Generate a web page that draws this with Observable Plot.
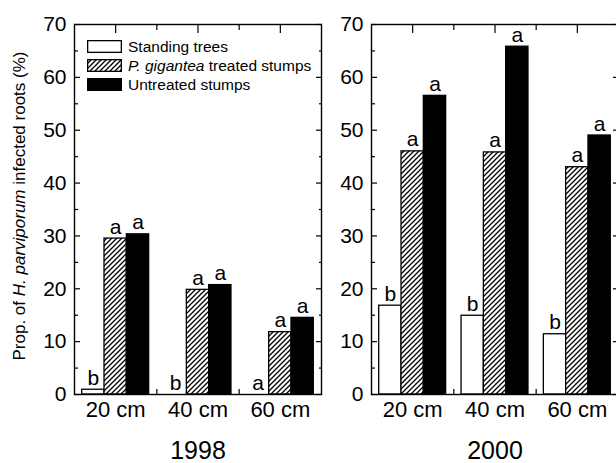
<!DOCTYPE html>
<html><head><meta charset="utf-8">
<script src="https://cdn.jsdelivr.net/npm/d3@7"></script>
<script src="https://cdn.jsdelivr.net/npm/@observablehq/plot@0.6"></script>
<style>
body{margin:0;background:#fff;}
#wrap{position:relative;width:616px;height:463px;overflow:hidden;font-family:"Liberation Sans",Arial,sans-serif;color:#000;}
.panel{position:absolute;top:0;}
#ytitle{position:absolute;left:20px;top:206px;transform:translate(-50%,-50%) rotate(-90deg);white-space:nowrap;font-size:17px;}
#legend{position:absolute;left:87px;top:37px;font-size:15.5px;line-height:19px;}
.row{display:flex;align-items:center;height:19px;}
.row svg{margin-right:6px;}
</style></head>
<body>
<svg width="0" height="0" style="position:absolute">
  <defs>
    <pattern id="hatch" patternUnits="userSpaceOnUse" width="5" height="5">
      <rect width="5" height="5" fill="#fff"/>
      <path d="M-1,1 L1,-1 M0,5 L5,0 M4,6 L6,4" stroke="#000" stroke-width="1.3"/>
    </pattern>
  </defs>
</svg>
<div id="wrap">
  <div id="ytitle">Prop. of <i>H. parviporum</i> infected roots (%)</div>
</div>
<script>
const depths = ["20 cm", "40 cm", "60 cm"];
const seriesNames = ["Standing trees", "P. gigantea treated stumps", "Untreated stumps"];
const years = ["1998", "2000"];

const standing1998 = [0.9, 0, 0];
const treated1998 = [29.5, 19.8, 11.8];
const untreated1998 = [30.3, 20.7, 14.5];
const standing2000 = [16.8, 14.9, 11.4];
const treated2000 = [46.0, 45.8, 43.0];
const untreated2000 = [56.5, 65.8, 49.0];

const lettersStanding1998 = ["b", "b", "a"];
const lettersTreated1998 = ["a", "a", "a"];
const lettersUntreated1998 = ["a", "a", "a"];
const lettersStanding2000 = ["b", "b", "b"];
const lettersTreated2000 = ["a", "a", "a"];
const lettersUntreated2000 = ["a", "a", "a"];

const yMajor = [0, 10, 20, 30, 40, 50, 60, 70];
const yMinor = [5, 15, 25, 35, 45, 55, 65];

const fills = ["#fff", "url(#hatch)", "#000"];
const barW = 0.271;

function panel(year, values, letters, {width, marginLeft, marginRight}) {
  const rows = [];
  depths.forEach((d, i) => values.forEach((arr, j) => rows.push({depth: i, s: j, v: arr[i], l: letters[j][i]})));
  const x1 = d => d.depth + 0.5 + (d.s - 1.5) * barW;
  const x2 = d => x1(d) + barW;
  const xc = d => x1(d) + barW / 2;
  const centers = depths.map((d, i) => i + 0.5);
  const bounds = depths.slice(1).map((d, i) => i + 1);
  const none = () => "";
  return Plot.plot({
    width, height: 463, marginLeft, marginRight, marginTop: 24, marginBottom: 69,
    x: {domain: [0, depths.length], axis: null},
    y: {domain: [0, 70], axis: null},
    style: {fontFamily: "'Liberation Sans', Arial, sans-serif", fontSize: "21px", color: "#000", background: "transparent", overflow: "visible"},
    marks: [
      Plot.axisY(yMajor, {anchor: "left", tickSize: -6, tickPadding: 14, strokeWidth: 1.2, label: null, fontSize: 21}),
      Plot.axisY(yMinor, {anchor: "left", tickSize: -4, tickFormat: none, strokeWidth: 1.2, label: null}),
      Plot.axisY(yMajor, {anchor: "right", tickSize: -6, tickFormat: none, strokeWidth: 1.2, label: null}),
      Plot.axisY(yMinor, {anchor: "right", tickSize: -3, tickFormat: none, strokeWidth: 1.2, label: null}),
      Plot.axisX(centers, {anchor: "bottom", tickSize: -8, tickPadding: 15, tickFormat: v => depths[v - 0.5], strokeWidth: 1.2, label: null, fontSize: 22}),
      Plot.axisX(bounds, {anchor: "bottom", tickSize: -5, tickFormat: none, strokeWidth: 1.2, label: null}),
      Plot.axisX(centers, {anchor: "top", tickSize: -8, tickFormat: none, strokeWidth: 1.2, label: null}),
      Plot.axisX(bounds, {anchor: "top", tickSize: -5, tickFormat: none, strokeWidth: 1.2, label: null}),
      Plot.rectY(rows, {x1, x2, y1: 0, y2: "v", fill: d => fills[d.s], stroke: "#000", strokeWidth: 1.3}),
      Plot.text(rows, {x: xc, y: "v", text: "l", lineAnchor: "bottom", dy: -5, fontSize: 21}),
      Plot.frame({stroke: "#000", strokeWidth: 1.4}),
      Plot.text([year], {frameAnchor: "bottom", lineAnchor: "middle", text: d => d, dy: 56, fontSize: 25})
    ]
  });
}

const wrap = document.getElementById("wrap");
const left = panel(years[0], [standing1998, treated1998, untreated1998],
  [lettersStanding1998, lettersTreated1998, lettersUntreated1998], {width: 330, marginLeft: 74, marginRight: 9});
left.classList.add("panel"); left.style.left = "0px";
const right = panel(years[1], [standing2000, treated2000, untreated2000],
  [lettersStanding2000, lettersTreated2000, lettersUntreated2000], {width: 290, marginLeft: 41, marginRight: 2});
right.classList.add("panel"); right.style.left = "330px";
wrap.appendChild(left);
wrap.appendChild(right);

const legend = document.createElement("div");
legend.id = "legend";
seriesNames.forEach((name, j) => {
  const row = document.createElement("div");
  row.className = "row";
  row.innerHTML = `<svg width="35" height="13"><rect x="0.65" y="0.65" width="33.7" height="11.7" fill="${fills[j]}" stroke="#000" stroke-width="1.3"/></svg>` +
    (j === 1 ? `<span><i>P. gigantea</i> treated stumps</span>` : `<span>${name}</span>`);
  legend.appendChild(row);
});
wrap.appendChild(legend);
</script>
</body></html>
